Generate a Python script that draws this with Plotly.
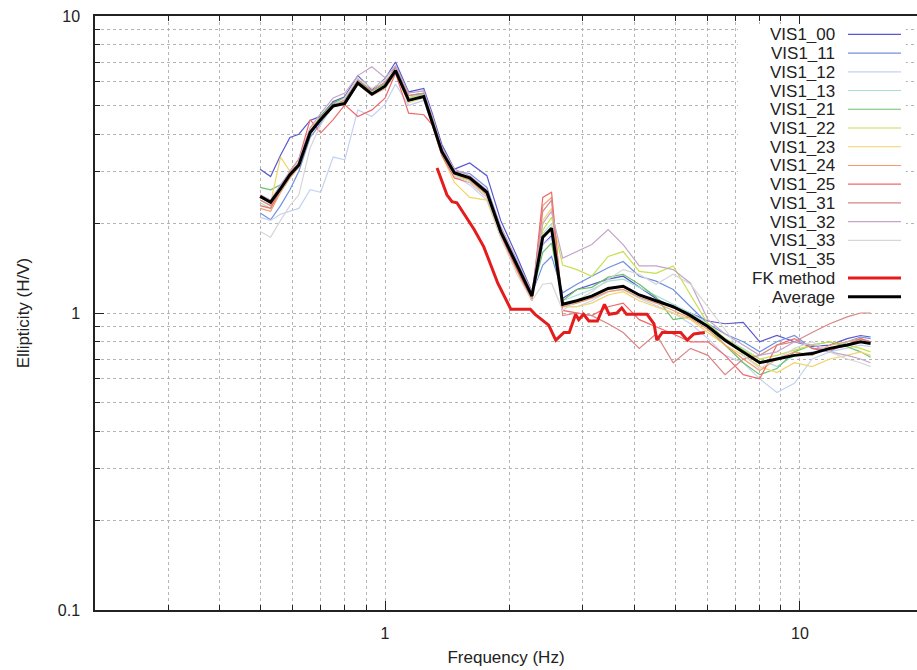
import math
import plotly.graph_objects as go

# Frequency grid (Hz) shared by the station curves and the average
freq = [0.50, 0.53, 0.56, 0.59, 0.62, 0.66, 0.70, 0.75, 0.80, 0.86, 0.93, 1.00, 1.06, 1.14, 1.24,
        1.30, 1.37, 1.47, 1.60, 1.76, 1.90, 2.08, 2.26, 2.40, 2.52, 2.68, 2.90, 3.15, 3.45, 3.75,
        4.10, 4.50, 4.95, 5.45, 6.00, 6.60, 7.30, 8.00, 8.80, 9.70, 10.7, 11.8, 13.0, 14.0, 14.8]

vis1_00 = [3.05, 2.88, 3.40, 3.90, 4.00, 4.45, 4.60, 5.15, 5.35, 6.30, 5.65, 6.15, 7.00, 5.55, 5.70,
           4.70, 3.70, 3.05, 3.20, 2.90, 2.05, 1.55, 1.18, 1.70, 1.82, 1.12, 1.20, 1.25, 1.30, 1.33,
           1.22, 1.12, 1.04, 1.00, 0.94, 0.92, 0.93, 0.80, 0.84, 0.80, 0.77, 0.78, 0.82, 0.84, 0.83]
vis1_11 = [2.17, 2.06, 2.30, 2.60, 3.00, 3.90, 4.35, 5.00, 5.20, 6.10, 5.50, 5.95, 6.75, 5.30, 5.45,
           4.50, 3.60, 3.00, 2.95, 2.65, 1.95, 1.50, 1.15, 1.45, 1.55, 1.17, 1.25, 1.33, 1.42, 1.49,
           1.33, 1.28, 1.20, 1.05, 0.92, 0.85, 0.80, 0.74, 0.80, 0.84, 0.76, 0.74, 0.80, 0.83, 0.82]
vis1_12 = [2.10, 2.05, 2.15, 2.20, 2.25, 2.60, 2.55, 3.35, 3.28, 4.83, 4.59, 5.05, 5.90, 5.00, 5.20,
           4.30, 3.40, 2.90, 2.70, 2.40, 1.80, 1.40, 1.12, 1.70, 1.80, 1.05, 1.05, 1.10, 1.18, 1.20,
           1.12, 1.06, 1.00, 0.92, 0.82, 0.72, 0.68, 0.60, 0.54, 0.58, 0.70, 0.74, 0.76, 0.78, 0.77]
vis1_13 = [2.35, 2.25, 2.55, 2.85, 3.10, 4.00, 4.50, 5.00, 5.20, 6.10, 5.55, 5.90, 6.60, 5.30, 5.45,
           4.50, 3.55, 2.95, 2.80, 2.50, 1.85, 1.42, 1.12, 1.85, 2.00, 1.10, 1.15, 1.20, 1.28, 1.30,
           1.22, 1.14, 1.07, 1.00, 0.92, 0.82, 0.76, 0.70, 0.66, 0.72, 0.74, 0.75, 0.80, 0.82, 0.80]
vis1_21 = [2.65, 2.60, 2.70, 2.95, 3.20, 4.10, 4.60, 5.10, 5.30, 6.00, 5.60, 5.90, 6.70, 5.40, 5.50,
           4.60, 3.60, 3.00, 2.85, 2.55, 1.90, 1.48, 1.15, 1.60, 1.72, 1.10, 1.20, 1.22, 1.32, 1.35,
           1.25, 1.13, 0.95, 0.97, 0.90, 0.78, 0.68, 0.62, 0.65, 0.74, 0.78, 0.80, 0.77, 0.74, 0.71]
vis1_22 = [2.40, 2.30, 2.60, 2.90, 3.10, 4.00, 4.50, 5.00, 5.15, 6.00, 5.50, 5.85, 6.60, 5.30, 5.40,
           4.50, 3.55, 2.90, 2.80, 2.50, 1.85, 1.42, 1.12, 1.90, 2.10, 1.45, 1.40, 1.33, 1.55, 1.61,
           1.38, 1.36, 1.44, 1.15, 0.92, 0.82, 0.75, 0.70, 0.72, 0.75, 0.78, 0.80, 0.78, 0.76, 0.74]
vis1_23 = [2.45, 2.35, 3.35, 3.00, 3.10, 4.20, 4.50, 5.00, 5.10, 5.90, 5.40, 5.75, 6.40, 5.10, 5.30,
           4.30, 3.40, 2.75, 2.45, 2.40, 1.80, 1.38, 1.10, 2.05, 2.25, 1.05, 1.05, 1.08, 1.15, 1.18,
           1.10, 1.05, 1.00, 0.95, 0.86, 0.78, 0.72, 0.66, 0.63, 0.68, 0.66, 0.70, 0.72, 0.74, 0.72]
vis1_24 = [2.25, 2.20, 2.55, 2.85, 3.10, 4.00, 4.45, 4.95, 5.05, 5.90, 5.40, 5.70, 6.45, 5.20, 5.30,
           4.40, 3.50, 2.95, 2.80, 2.50, 1.85, 1.40, 1.10, 2.30, 2.45, 1.05, 1.08, 1.12, 1.18, 1.20,
           1.13, 1.08, 1.02, 0.96, 0.88, 0.78, 0.70, 0.64, 0.70, 0.74, 0.72, 0.78, 0.80, 0.82, 0.80]
vis1_25 = [2.30, 2.25, 2.60, 3.00, 3.30, 4.48, 4.04, 4.48, 5.02, 4.59, 4.83, 5.29, 6.42, 4.71, 4.65,
           4.30, 3.40, 2.85, 2.75, 2.45, 1.82, 1.40, 1.10, 2.45, 2.55, 1.02, 1.00, 0.98, 1.05, 1.08,
           0.95, 0.90, 0.85, 0.80, 0.80, 0.72, 0.62, 0.60, 0.78, 0.82, 0.76, 0.75, 0.78, 0.82, 0.80]
vis1_31 = [2.40, 2.30, 2.65, 2.95, 3.20, 4.10, 4.55, 5.05, 5.20, 6.10, 5.60, 6.00, 6.70, 5.40, 5.50,
           4.55, 3.60, 3.00, 2.85, 2.55, 1.90, 1.45, 1.15, 2.20, 2.40, 0.98, 1.00, 0.98, 0.92, 0.86,
           0.76, 0.85, 0.68, 0.76, 0.72, 0.62, 0.70, 0.72, 0.78, 0.80, 0.86, 0.92, 0.97, 1.00, 1.00]
vis1_32 = [2.50, 2.40, 2.70, 3.00, 3.30, 4.20, 4.70, 5.30, 5.50, 6.30, 6.75, 6.20, 6.80, 5.50, 5.60,
           4.60, 3.60, 3.05, 2.90, 2.60, 1.95, 1.50, 1.18, 2.00, 2.20, 1.53, 1.61, 1.70, 1.91, 1.70,
           1.44, 1.44, 1.40, 1.26, 0.95, 0.85, 0.78, 0.72, 0.74, 0.80, 0.78, 0.74, 0.72, 0.70, 0.68]
vis1_33 = [1.88, 1.80, 2.05, 2.30, 2.50, 3.60, 4.30, 5.00, 5.30, 6.20, 5.70, 6.10, 6.60, 5.20, 5.40,
           4.40, 3.45, 2.90, 2.75, 2.45, 1.80, 1.35, 1.10, 1.25, 1.26, 1.02, 1.10, 1.18, 1.30, 1.40,
           1.35, 1.25, 1.35, 1.25, 1.05, 0.88, 0.72, 0.65, 0.70, 0.76, 0.80, 0.74, 0.70, 0.68, 0.66]
vis1_35 = [2.45, 2.35, 2.60, 2.90, 3.15, 4.05, 4.45, 4.95, 5.05, 5.90, 5.40, 5.75, 6.50, 5.15, 5.30,
           4.40, 3.50, 2.95, 2.85, 2.55, 1.88, 1.45, 1.14, 1.40, 1.50, 1.06, 1.10, 1.14, 1.20, 1.22,
           1.14, 1.10, 1.05, 0.98, 0.90, 0.81, 0.74, 0.68, 0.70, 0.72, 0.73, 0.76, 0.78, 0.80, 0.79]
average = [2.47, 2.36, 2.62, 2.92, 3.15, 4.05, 4.48, 4.98, 5.08, 5.95, 5.45, 5.80, 6.55, 5.20, 5.36,
           4.40, 3.50, 2.96, 2.85, 2.55, 1.88, 1.45, 1.14, 1.80, 1.93, 1.07, 1.10, 1.14, 1.21, 1.23,
           1.15, 1.10, 1.05, 0.98, 0.90, 0.81, 0.74, 0.68, 0.70, 0.72, 0.73, 0.76, 0.78, 0.80, 0.79]

# FK array-method ellipticity
fk_freq = [1.335, 1.41, 1.45, 1.49, 1.64, 1.73, 1.87, 2.01, 2.24, 2.30, 2.48, 2.58, 2.70, 2.78,
           2.88, 2.93, 3.01, 3.10, 3.25, 3.38, 3.47, 3.62, 3.72, 3.82, 4.05, 4.28, 4.45, 4.52,
           4.66, 5.16, 5.35, 5.55, 5.90]
fk_ell = [3.08, 2.50, 2.37, 2.35, 1.91, 1.67, 1.26, 1.03, 1.03, 0.99, 0.91, 0.81, 0.86, 0.86,
          0.99, 0.95, 0.99, 0.94, 0.94, 1.07, 0.99, 1.00, 1.04, 0.99, 0.99, 0.99, 0.92, 0.81,
          0.86, 0.86, 0.81, 0.85, 0.86]

station_names = ["VIS1_00", "VIS1_11", "VIS1_12", "VIS1_13", "VIS1_21", "VIS1_22", "VIS1_23",
                 "VIS1_24", "VIS1_25", "VIS1_31", "VIS1_32", "VIS1_33", "VIS1_35"]
station_values = [vis1_00, vis1_11, vis1_12, vis1_13, vis1_21, vis1_22, vis1_23,
                  vis1_24, vis1_25, vis1_31, vis1_32, vis1_33, vis1_35]
station_colors = ["#5858d0", "#7090e0", "#c4d2f2", "#a6e0d4", "#6cc06c", "#c6e04e", "#f0d46c",
                  "#f09c6c", "#f06868", "#d88686", "#c4a6c8", "#d6d6d6", "#ffffff"]

x_ticks = [1, 10]
x_minor = [0.3, 0.4, 0.5, 0.6, 0.7, 0.8, 0.9, 2, 3, 4, 5, 6, 7, 8, 9]
y_ticks = [0.1, 1, 10]
y_minor = [0.2, 0.3, 0.4, 0.5, 0.6, 0.7, 0.8, 0.9, 2, 3, 4, 5, 6, 7, 8, 9]

FONT = "Liberation Sans, Arial, Helvetica, sans-serif"
W, H = 917, 670
ML, MR, MT, MB = 95, 0, 16, 60

fig = go.Figure()

for name, vals, col in zip(station_names, station_values, station_colors):
    fig.add_trace(go.Scatter(x=freq, y=vals, mode="lines", name=name,
                             line=dict(color=col, width=1.2), showlegend=False))

fig.add_trace(go.Scatter(x=fk_freq, y=fk_ell, mode="lines", name="FK method",
                         line=dict(color="#e41c1c", width=3), showlegend=False))
fig.add_trace(go.Scatter(x=freq, y=average, mode="lines", name="Average",
                         line=dict(color="#000000", width=3), showlegend=False))

grid_col = "#b4b4b4"
fig.update_xaxes(
    type="log", range=[math.log10(0.2), math.log10(19.15)],
    tickmode="array", tickvals=x_ticks, ticktext=["1", "10"],
    ticks="inside", ticklen=9, tickwidth=1.3, tickcolor="#222",
    showline=True, linecolor="#222", linewidth=1.5, mirror="ticks",
    showgrid=True, gridcolor=grid_col, griddash="dot", gridwidth=1,
    minor=dict(tickmode="array", tickvals=x_minor, ticks="inside", ticklen=5,
               tickcolor="#222", showgrid=True, gridcolor=grid_col, griddash="dot"),
    tickfont=dict(family=FONT, size=16, color="#222"),
    ticklabelstandoff=8,
    title=dict(text="Frequency (Hz)", font=dict(family=FONT, size=17, color="#222"), standoff=10),
    zeroline=False,
)
fig.update_yaxes(
    type="log", range=[-1, 1],
    tickmode="array", tickvals=y_ticks, ticktext=["0.1", "1", "10"],
    ticks="inside", ticklen=9, tickwidth=1.3, tickcolor="#222",
    showline=True, linecolor="#222", linewidth=1.5, mirror=False,
    showgrid=True, gridcolor=grid_col, griddash="dot", gridwidth=1,
    minor=dict(tickmode="array", tickvals=y_minor, ticks="inside", ticklen=5,
               tickcolor="#222", showgrid=True, gridcolor=grid_col, griddash="dot"),
    tickfont=dict(family=FONT, size=16, color="#222"),
    ticklabelstandoff=10,
    title=dict(text="Ellipticity (H/V)", font=dict(family=FONT, size=17, color="#222"), standoff=24),
    zeroline=False,
)

# Key in the upper right: label text, then a line sample, on an opaque white box
plot_w = W - ML - MR
plot_h = H - MT - MB


def px_x(px):
    return (px - ML) / plot_w


def px_y(py):
    return (H - MB - py) / plot_h


key_names = station_names + ["FK method", "Average"]
key_colors = station_colors + ["#e41c1c", "#000000"]
key_widths = [1.2] * len(station_names) + [3, 3]

shapes = [dict(type="rect", xref="paper", yref="paper",
               x0=px_x(738), x1=px_x(906), y0=px_y(306), y1=px_y(24),
               fillcolor="white", line=dict(width=0), layer="above")]
annotations = []
row0, step = 34.3, 18.74
for i, (nm, col, wd) in enumerate(zip(key_names, key_colors, key_widths)):
    yy = px_y(row0 + i * step)
    annotations.append(dict(text=nm, xref="paper", yref="paper", x=px_x(836), y=yy,
                            xanchor="right", yanchor="middle", showarrow=False,
                            height=18, valign="middle", borderpad=0,
                            font=dict(family=FONT, size=17, color="#222")))
    shapes.append(dict(type="line", xref="paper", yref="paper",
                       x0=px_x(848), x1=px_x(901), y0=yy, y1=yy,
                       line=dict(color=col, width=wd), layer="above"))

fig.update_layout(
    width=W, height=H,
    margin=dict(l=ML, r=MR, t=MT, b=MB),
    paper_bgcolor="white", plot_bgcolor="white",
    shapes=shapes, annotations=annotations,
    showlegend=False,
)

fig.write_html("out.html")
